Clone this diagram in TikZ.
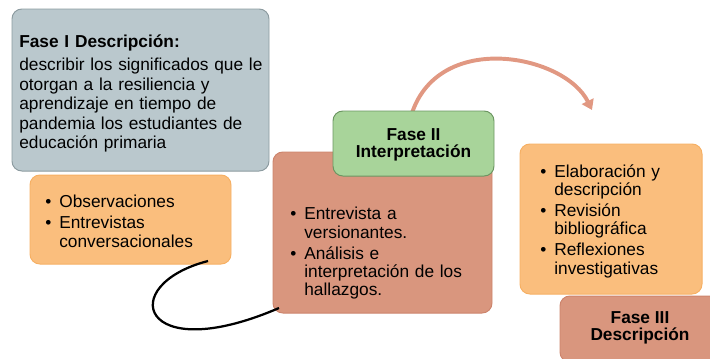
\documentclass[tikz,border=0pt]{standalone}
\usepackage{fontspec}
\setmainfont{Liberation Sans}
\usetikzlibrary{fit,arrows.meta}
\definecolor{grisfase}{RGB}{186,200,205}
\definecolor{grisborde}{RGB}{140,155,160}
\definecolor{naranja}{RGB}{250,190,125}
\definecolor{naranjaborde}{RGB}{246,176,100}
\definecolor{salmon}{RGB}{217,150,126}
\definecolor{salmonborde}{RGB}{205,132,108}
\definecolor{verde}{RGB}{168,212,154}
\definecolor{verdeborde}{RGB}{108,150,98}
\definecolor{flecha}{RGB}{225,152,130}
\newcommand{\itm}{\makebox[10pt][l]{\textbullet}}
\newcommand{\sig}{\hspace*{10pt}}

\begin{document}
\begin{tikzpicture}[x=0.025cm,y=-0.025cm,
  caja/.style={draw, rounded corners=7pt, line width=0.7pt, inner sep=0pt},
  texto/.style={inner sep=0pt, anchor=north west, align=left, text width=175pt,
    font=\fontsize{12.3}{13}\selectfont},
  titulo/.style={inner sep=0pt, anchor=north, align=center,
    font=\fontsize{12.3}{12.6}\selectfont\bfseries}]
\clip (0,0) rectangle (710,358);
\useasboundingbox (0,0) rectangle (710,358);

\node[caja, fill=grisfase, draw=grisborde, fit={(12,9) (269,171)}] (fase1) {};
\node[caja, fill=naranja, draw=naranjaborde, fit={(30,175) (231,264)}] (tecnicas) {};
\node[caja, fill=salmon, draw=salmonborde, fit={(273,152) (492,313)}] (fase2) {};

\draw[flecha, line width=2.8pt, -{Triangle[length=7pt,width=9pt]}]
  (412,113) .. controls (440,30) and (565,55) .. (592,110) coordinate (arcofin);

\node[caja, fill=verde, draw=verdeborde, fit={(333,111) (494,176)}] (interp) {};
\node[caja, fill=naranja, draw=naranjaborde, fit={(520,144) (702,294)}] (fase3lista) {};
\node[caja, fill=salmon, draw=salmonborde, fit={(560,296) (720,362)}] (fase3) {};

\node[titulo] (interptxt) at (413.5,128) {Fase II\\ Interpretación};
\node[titulo] (fase3tit) at (640,311) {Fase III\\ Descripción};

\node[texto, font=\fontsize{12.3}{13.8}\selectfont] (fase1txt) at (19,35)
  {\textbf{Fase I Descripción:}\\[2.5pt] describir los significados que le\\ otorgan a la resiliencia y\\ aprendizaje en tiempo de\\ pandemia los estudiantes de\\ educación primaria};
\node[texto] (tecnicastxt) at (45,195)
  {\itm Observaciones\\[2pt] \itm Entrevistas\\ \sig conversacionales};
\node[texto] (fase2txt) at (290,207)
  {\itm Entrevista a\\ \sig versionantes.\\[2pt] \itm Análisis e\\ \sig interpretación de los\\ \sig hallazgos.};
\node[texto] (fase3txt) at (540,164)
  {\itm Elaboración y\\ \sig descripción\\[2pt] \itm Revisión\\ \sig bibliográfica\\[2pt] \itm Reflexiones\\ \sig investigativas};

\coordinate (tecfin) at (208,261);
\coordinate (fase2ini) at (279,308);
\draw[line width=1.6pt] (tecfin) .. controls (115,285) and (140,368) .. (fase2ini);

\end{tikzpicture}
\end{document}
